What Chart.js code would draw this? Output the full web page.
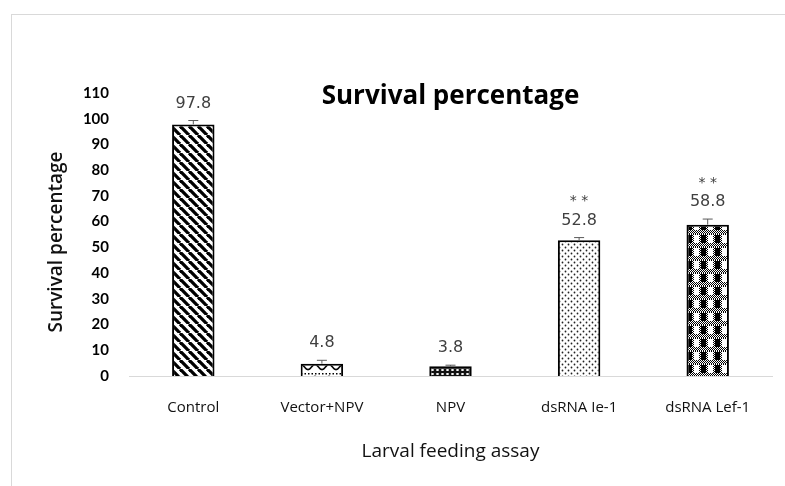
<!DOCTYPE html>
<html>
<head>
<meta charset="utf-8">
<script src="https://cdn.jsdelivr.net/npm/chart.js@4.4.1/dist/chart.umd.min.js"></script>
<style>
  html, body { margin: 0; padding: 0; background: #fff; overflow: hidden; }
  #wrap { position: relative; width: 785px; height: 486px; }
  #frame { position: absolute; left: 11px; top: 14px; width: 800px; height: 500px;
           border: 1px solid #d9d9d9; box-sizing: border-box; }
  #c { position: absolute; left: 0; top: 0; }
</style>
</head>
<body>
<div id="wrap">
  <div id="frame"></div>
  <canvas id="c" width="785" height="486"></canvas>
</div>
<script>
// Larval feeding assay: survival (%) per treatment
const categories = ['Control', 'Vector+NPV', 'NPV', 'dsRNA Ie-1', 'dsRNA Lef-1'];
const survival = [97.8, 4.8, 3.8, 52.8, 58.8];
const errorPlus = [1.5, 1.3, 0.4, 1.0, 2.2];
const significance = ['', '', '', '**', '**'];
const yMin = 0, yMax = 110, yStep = 10;

const chartTitle = 'Survival percentage';
const xTitle = 'Larval feeding assay';
const yTitle = 'Survival percentage';

// ---- monochrome fill patterns, one per bar ----
function tile(w, h, draw) {
  const c = document.createElement('canvas');
  c.width = w; c.height = h;
  const g = c.getContext('2d');
  g.fillStyle = '#fff'; g.fillRect(0, 0, w, h);
  draw(g, w, h);
  return c;
}
const ctx = document.getElementById('c').getContext('2d');

const stripes = tile(9, 9, (g, w, h) => {
  g.strokeStyle = '#000'; g.lineWidth = 3.3;
  for (let k = -1; k <= 1; k++) {
    g.beginPath(); g.moveTo(k * w, 0); g.lineTo(k * w + w, h); g.stroke();
  }
});
const waves = tile(14, 12, (g, w, h) => {
  g.fillStyle = '#000';
  for (let x = 0; x < w; x += 3.5) g.fillRect(x, 1, 1.5, 1.5);
  g.strokeStyle = '#000'; g.lineWidth = 1.6;
  g.beginPath();
  for (let x = 0; x <= w; x += 0.5) {
    const y = 7 + 2.6 * Math.cos((x / w) * Math.PI * 2);
    if (x === 0) g.moveTo(x, y); else g.lineTo(x, y);
  }
  g.stroke();
});
const rings = tile(5, 4, (g, w, h) => {
  g.fillStyle = '#111'; g.fillRect(0, 0, w, h);
  g.fillStyle = '#fff';
  g.beginPath(); g.ellipse(2.5, 2, 1.5, 1.1, 0, 0, Math.PI * 2); g.fill();
});
const dots = tile(6, 6, (g) => {
  g.fillStyle = '#222';
  g.beginPath(); g.arc(1.5, 1.5, 0.9, 0, Math.PI * 2); g.fill();
  g.beginPath(); g.arc(4.5, 4.5, 0.9, 0, Math.PI * 2); g.fill();
});
const checks = tile(14, 13, (g, w, h) => {
  for (let i = 0; i < w; i++) for (let j = 0; j < h; j++) {
    g.fillStyle = (i + j) % 2 ? '#000' : '#fff';
    g.fillRect(i, j, 1, 1);
  }
  g.fillStyle = '#000'; g.fillRect(1, 1, 5, 8);
  g.fillStyle = '#fff'; g.fillRect(8, 1, 5, 8);
});
const fills = [stripes, waves, rings, dots, checks].map(t => ctx.createPattern(t, 'repeat'));

// ---- error bars, value labels, significance marks, titles ----
const annotate = {
  id: 'annotate',
  afterDatasetsDraw(chart) {
    const { ctx, scales: { y }, chartArea } = chart;
    const meta = chart.getDatasetMeta(0);
    ctx.save();
    meta.data.forEach((bar, i) => {
      const yTop = y.getPixelForValue(survival[i]);
      const yCap = y.getPixelForValue(survival[i] + errorPlus[i]);
      ctx.strokeStyle = '#595959'; ctx.lineWidth = 1;
      ctx.beginPath();
      ctx.moveTo(bar.x, yTop); ctx.lineTo(bar.x, yCap);
      ctx.moveTo(bar.x - 5, yCap); ctx.lineTo(bar.x + 5, yCap);
      ctx.stroke();

      ctx.fillStyle = '#404040';
      ctx.textAlign = 'center'; ctx.textBaseline = 'middle';
      ctx.font = '16px "DejaVu Sans"';
      const yLabel = yCap - 17;
      ctx.fillText(survival[i].toFixed(1), bar.x, yLabel);
      if (significance[i]) {
        ctx.font = '14px "DejaVu Sans"';
        ctx.fillText(significance[i].split('').join(' '), bar.x, yLabel - 19);
      }
    });

    const cx = (chartArea.left + chartArea.right) / 2;
    ctx.fillStyle = '#000';
    ctx.textAlign = 'center'; ctx.textBaseline = 'middle';
    ctx.font = 'bold 26px "Open Sans"';
    ctx.fillText(chartTitle, cx, 97);

    ctx.font = '19px "Open Sans"';
    ctx.fillStyle = '#111';
    ctx.fillText(xTitle, cx, 452);

    ctx.save();
    ctx.translate(57, 242);
    ctx.rotate(-Math.PI / 2);
    ctx.font = '600 19px "Open Sans"';
    ctx.fillText(yTitle, 0, 0);
    ctx.restore();
    ctx.restore();
  }
};

new Chart(ctx, {
  type: 'bar',
  data: {
    labels: categories,
    datasets: [{
      data: survival,
      backgroundColor: fills,
      borderColor: '#000',
      borderWidth: 2,
      barPercentage: 0.33,
      categoryPercentage: 1
    }]
  },
  options: {
    responsive: false,
    animation: false,
    devicePixelRatio: 1,
    layout: { padding: { top: 93, right: 13, bottom: 0, left: 0 } },
    plugins: { legend: { display: false }, title: { display: false }, tooltip: { enabled: false } },
    scales: {
      x: {
        grid: { display: false },
        border: { display: true, color: '#d9d9d9', width: 1 },
        ticks: { color: '#111', font: { family: 'Open Sans', size: 15 }, padding: 15 },
        afterFit(scale) { scale.height = 110; }
      },
      y: {
        min: yMin, max: yMax,
        grid: { display: false },
        border: { display: false },
        ticks: { stepSize: yStep, color: '#000', font: { family: 'Lato', size: 15, weight: 'bold' }, padding: 12 },
        afterFit(scale) { scale.width = 129; }
      }
    }
  },
  plugins: [annotate]
});
</script>
</body>
</html>
